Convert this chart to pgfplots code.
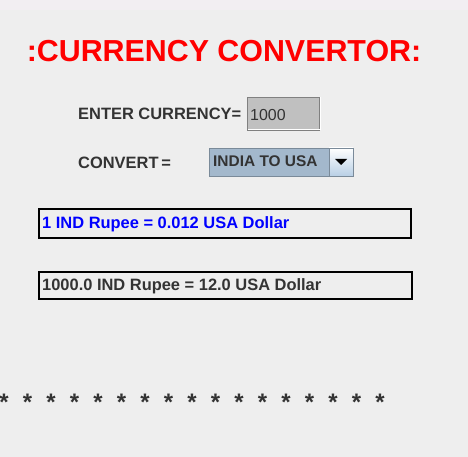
\documentclass[border=0pt]{standalone}
\usepackage{pgfplots}
\pgfplotsset{compat=1.18}
\usepackage{fontspec}
\setmainfont{Liberation Sans}
\definecolor{bg}{HTML}{EEEEEE}
\definecolor{txt}{HTML}{333333}
\definecolor{combo}{HTML}{A3B8CC}
\begin{document}
\begin{tikzpicture}
\begin{axis}[scale only axis, width=468bp, height=457bp, xmin=0, xmax=468, ymin=0, ymax=457, y dir=reverse, hide axis, clip=true, x=1bp, y=1bp]
\fill[bg] (axis cs:0,0) rectangle (axis cs:468,457);
\fill[color={rgb,255:red,242;green,238;blue,242}] (axis cs:0,0) rectangle (axis cs:468,10);
\node[anchor=center, text=red, font=\fontsize{30.5}{30}\selectfont\bfseries] at (axis cs:224,51) {:CURRENCY CONVERTOR:};
\node[anchor=west, text=txt, font=\fontsize{16.5}{17}\selectfont\bfseries, inner sep=0] at (axis cs:78,114) {ENTER CURRENCY=};
\draw[fill={rgb,255:red,192;green,192;blue,192}, draw=gray] (axis cs:247,97) rectangle (axis cs:319,130);
\draw[white, line width=1bp] (axis cs:248,130) -- (axis cs:320,130) -- (axis cs:320,97);
\node[anchor=west, text=txt, font=\fontsize{16}{17}\selectfont, inner sep=0] at (axis cs:250,115) {1000};
\node[anchor=west, text=txt, font=\fontsize{16.5}{17}\selectfont\bfseries, inner sep=0] at (axis cs:78,163) {CONVERT\,=};
\draw[fill=combo, draw={rgb,255:red,122;green,138;blue,153}] (axis cs:209,148) rectangle (axis cs:353,176);
\shade[top color=white, bottom color={rgb,255:red,184;green,207;blue,229}, draw={rgb,255:red,122;green,138;blue,153}] (axis cs:329,148) rectangle (axis cs:353,176);
\fill[black] (axis cs:335,159) -- (axis cs:347,159) -- (axis cs:341,165) -- cycle;
\node[anchor=west, text=txt, font=\fontsize{15.5}{16}\selectfont\bfseries, inner sep=0] at (axis cs:213,161) {INDIA TO USA};
\draw[line width=2bp] (axis cs:39,209) rectangle (axis cs:411,238);
\node[anchor=west, text=blue, font=\fontsize{16.5}{17}\selectfont\bfseries, inner sep=0] at (axis cs:42,224) {1 IND Rupee = 0.012 USA Dollar};
\draw[line width=2bp] (axis cs:39,272) rectangle (axis cs:412,299);
\node[anchor=west, text=txt, font=\fontsize{16.5}{17}\selectfont\bfseries, inner sep=0] at (axis cs:42,286) {1000.0 IND Rupee = 12.0 USA Dollar};
\pgfplotsinvokeforeach{0,...,16}{
\node[anchor=center, text=txt, font=\fontsize{24}{24}\selectfont\bfseries, inner sep=0] at (axis cs:{4+23.5*#1},402) {*};
}
\end{axis}
\end{tikzpicture}
\end{document}
